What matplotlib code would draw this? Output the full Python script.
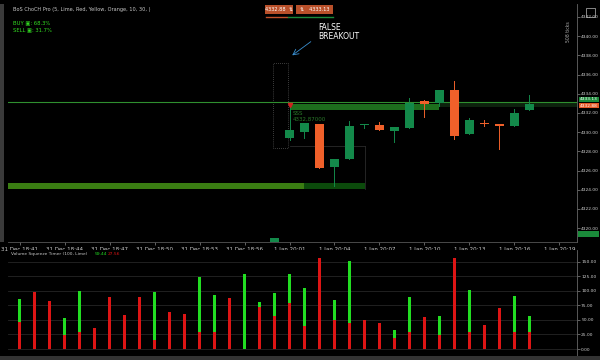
import numpy as np
import matplotlib.pyplot as plt
from matplotlib.patches import Rectangle

# candles: index 0 = 1 Jan 20:01, one per minute (weekend gap collapsed)
c_idx = [-1, 0, 1, 2, 3, 4, 5, 6, 7, 8, 9, 10, 11, 12, 13, 14, 15, 16]
c_open = [4318.0, 4329.4, 4330.05, 4330.85, 4326.4, 4327.2, 4330.7, 4330.75, 4330.15,
          4330.47, 4333.25, 4333.07, 4334.4, 4329.8, 4331.0, 4330.9, 4330.68, 4332.28]
c_high = [4319.0, 4332.87, 4331.0, 4330.9, 4327.2, 4331.17, 4330.9, 4331.06, 4330.55,
          4333.6, 4333.35, 4334.4, 4335.33, 4331.5, 4331.27, 4330.9, 4332.4, 4333.88]
c_low = [4317.5, 4329.2, 4329.4, 4326.24, 4324.4, 4327.2, 4330.45, 4330.2, 4329.0,
         4330.47, 4331.55, 4332.76, 4329.3, 4329.8, 4330.68, 4328.25, 4330.68, 4332.28]
c_close = [4319.0, 4330.2, 4331.0, 4326.24, 4327.2, 4330.65, 4330.9, 4330.2, 4330.55,
           4333.07, 4332.94, 4334.4, 4329.64, 4331.27, 4330.82, 4330.68, 4332.03, 4332.94]

tick_idx = [-18, -15, -12, -9, -6, -3, 0, 3, 6, 9, 12, 15, 18]
tick_lbl = ['31 Dec 18:41', '31 Dec 18:44', '31 Dec 18:47', '31 Dec 18:50', '31 Dec 18:53',
            '31 Dec 18:56', '1 Jan 20:01', '1 Jan 20:04', '1 Jan 20:07', '1 Jan 20:10',
            '1 Jan 20:13', '1 Jan 20:16', '1 Jan 20:19']
price_ticks = [4320, 4322, 4324, 4326, 4328, 4330, 4332, 4334, 4336, 4338, 4340, 4342]

# volume squeeze timer (index -18 .. 16)
v_idx = list(range(-18, 17))
v_sell = [45.9, 97.9, 82.5, 24, 29.2, 36.1, 89.3, 58.4, 89.9, 14.9, 63, 60.7, 29.2, 28.7,
          87.6, 0, 72.2, 56.2, 79, 40, 155.8, 50, 45, 50, 45, 19, 30, 55, 24, 156, 30, 41,
          70, 29, 29]
v_buy = [39.5, 0, 0, 29.8, 70.5, 0, 0, 0, 0, 83, 0, 0, 94, 63.6, 0, 128.9, 8, 40, 49.9,
         64.8, 0, 34, 106, 0, 0, 14, 59, 0, 33, 0, 71, 0, 0, 62, 28]
vol_ticks = [0, 25, 50, 75, 100, 125, 150]

last_price = 4333.13
bid_price = 4332.88

GREEN = '#13894a'
ORANGE = '#f0602a'
BG = '#000000'

fig = plt.figure(figsize=(6, 3.6), dpi=100, facecolor=BG)


def fx(x):
    return x / 600


def fy(y):
    return 1 - y / 360


ax = fig.add_axes([fx(8), fy(242), fx(569), 238 / 360], facecolor=BG)
ax.set_xlim(-18.77, 19.17)
ax.set_ylim(4318.56, 4343.35)

# zones
ax.add_patch(Rectangle((-18.77, 4324.08), 19.77, 0.63, color='#3a7d12', lw=0, zorder=1))
ax.add_patch(Rectangle((1, 4324.08), 4.03, 0.63, color='#0b4a0b', lw=0, zorder=1))
ax.add_patch(Rectangle((0, 4332.31), 10, 0.64, color='#1d6e1d', lw=0, zorder=1))
ax.add_patch(Rectangle((10, 4332.6), 9.2, 0.4, color='#0d220d', lw=0, zorder=1))
ax.plot([0, 5.03], [4328.6, 4328.6], color='#2a2a2a', lw=0.6, zorder=1)
ax.plot([5.03, 5.03], [4324.1, 4328.6], color='#2a2a2a', lw=0.6, zorder=1)

# dotted box before breakout
ax.plot([-1.1, -1.1, -0.1, -0.1, -1.1], [4328.35, 4337.2, 4337.2, 4328.35, 4328.35],
        color='#777777', lw=0.5, ls=(0, (1, 2)), zorder=1)

ax.axhline(last_price, color='#2f8f2f', lw=0.8, zorder=2)

# candles
for i, o, h, l, c in zip(c_idx, c_open, c_high, c_low, c_close):
    col = GREEN if c >= o else ORANGE
    ax.plot([i, i], [l, h], color=col, lw=0.7, zorder=3)
    ax.add_patch(Rectangle((i - 0.32, min(o, c)), 0.64, max(abs(c - o), 0.15),
                           color=col, lw=0, zorder=4))

ax.plot(0, 4332.87, marker='v', color='#d02020', ms=3, zorder=5)
ax.text(0.2, 4331.9, 'SSS', color='#2a7a2a', fontsize=4, va='center', zorder=5)
ax.text(0.2, 4331.3, '4332,87000', color='#2a7a2a', fontsize=4, va='center', zorder=5)

ax.text(1.9, 4340.4, 'FALSE\nBREAKOUT', color='white', fontsize=5.5, va='center',
        linespacing=0.95, zorder=5)
ax.annotate('', xy=(0.03, 4337.83), xytext=(1.57, 4339.6),
            arrowprops=dict(arrowstyle='->', color='#3a8fd0', lw=0.6), zorder=5)

ax.yaxis.tick_right()
ax.set_yticks(price_ticks)
ax.set_yticklabels(['%.2f' % p for p in price_ticks])
ax.set_xticks(tick_idx)
ax.set_xticklabels(tick_lbl)
ax.tick_params(axis='x', labelsize=4, colors='#888888', labelcolor='#d0d0d0',
               length=2, width=0.5, pad=1.5)
ax.tick_params(axis='y', labelsize=3.2, colors='#888888', labelcolor='#d0d0d0',
               length=2, width=0.5, pad=1)
for s in ['top', 'left']:
    ax.spines[s].set_visible(False)
ax.spines['right'].set_color('#666666')
ax.spines['bottom'].set_color('#555555')
ax.spines['right'].set_linewidth(0.6)
ax.spines['bottom'].set_linewidth(0.6)

# price tags on right axis
fig.text(fx(580), fy(99.5), '%.2f' % last_price, fontsize=3.2, color='white', va='center',
         bbox=dict(boxstyle='square,pad=0.2', fc='#1b8a3a', ec='none'))
fig.text(fx(580), fy(105.5), '%.2f' % bid_price, fontsize=3.2, color='white', va='center',
         bbox=dict(boxstyle='square,pad=0.2', fc='#e55a28', ec='none'))
fig.text(fx(568), fy(32), '508 ticks', fontsize=3.3, color='#aaaaaa', rotation=90,
         ha='center', va='center')

# top labels
fig.text(fx(13), fy(10), 'BoS ChoCH Pro (5, Lime, Red, Yellow, Orange, 10, 30, )',
         fontsize=3.6, color='#c8c8c8', va='center')
fig.text(fx(13), fy(23), 'BUY \u25a3: 68.3%', fontsize=3.8, color='#33dd22', va='center')
fig.text(fx(13), fy(30), 'SELL \u25a3: 31.7%', fontsize=3.8, color='#33dd22', va='center')

fig.add_artist(Rectangle((fx(265), fy(14)), fx(28), 9 / 360, color='#b9502a', lw=0))
fig.add_artist(Rectangle((fx(296), fy(14)), fx(37), 9 / 360, color='#b9502a', lw=0))
fig.text(fx(279), fy(9.5), '%.2f  \u21c5' % bid_price, fontsize=3.6, color='white',
         ha='center', va='center')
fig.text(fx(314.5), fy(9.5), '\u21c5   %.2f' % last_price, fontsize=3.6, color='white',
         ha='center', va='center')
fig.add_artist(plt.Line2D([fx(266), fx(287)], [fy(17), fy(17)], color='#c0502a', lw=1))
fig.add_artist(plt.Line2D([fx(288), fx(333)], [fy(17), fy(17)], color='#1a8a3a', lw=1))

# left strip and small right-side widgets
fig.add_artist(Rectangle((0, fy(242)), fx(4), 238 / 360, color='#3a3a3a', lw=0))
fig.add_artist(Rectangle((fx(578), fy(237)), fx(21), 6 / 360, color='#1a8a3a', lw=0))
fig.add_artist(Rectangle((fx(586), fy(17)), fx(9), 9 / 360, fc='none', ec='#bbbbbb', lw=0.5))

# volume panel
vax = fig.add_axes([fx(8), fy(356), fx(569), 106 / 360], facecolor=BG)
vax.set_xlim(-18.77, 19.17)
vax.set_ylim(-12, 170)
for t in vol_ticks:
    vax.axhline(t, color='#262626', lw=0.6, zorder=0)
vax.bar(v_idx, v_sell, width=0.18, color='#dd1515', zorder=2)
vax.bar(v_idx, v_buy, bottom=v_sell, width=0.18, color='#22dd22', zorder=2)
vax.yaxis.tick_right()
vax.set_yticks(vol_ticks)
vax.set_yticklabels(['%.2f' % t for t in vol_ticks])
vax.set_xticks([])
vax.tick_params(axis='y', labelsize=3.2, colors='#888888', labelcolor='#d0d0d0',
                length=2, width=0.5, pad=1)
for s in ['top', 'left', 'bottom']:
    vax.spines[s].set_visible(False)
vax.spines['right'].set_color('#666666')
vax.spines['right'].set_linewidth(0.6)

fig.text(fx(11), fy(254), 'Volume Squeeze Timer (100, Lime)', fontsize=3.2,
         color='#c8c8c8', va='center')
fig.text(fx(95), fy(254), '59.44', fontsize=3.2, color='#22dd22', va='center')
fig.text(fx(108), fy(254), '27.56', fontsize=3.2, color='#dd1515', va='center')
fig.add_artist(Rectangle((0, 0), 1, 4 / 360, color='#333333', lw=0))

fig.savefig('out.png', dpi=100, facecolor=BG)
